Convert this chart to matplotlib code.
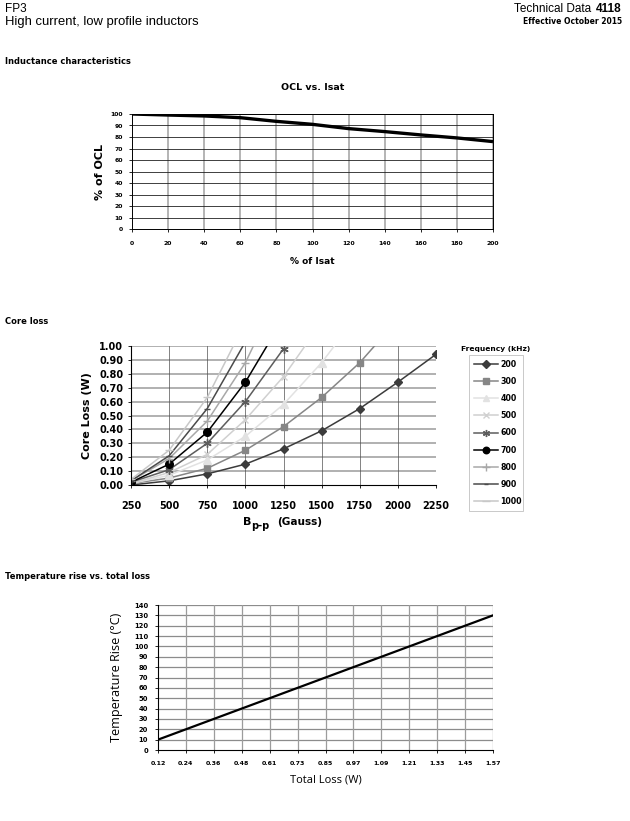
import numpy as np
import matplotlib
matplotlib.use("Agg")
import matplotlib.pyplot as plt
from matplotlib.lines import Line2D

plt.rcParams['font.family'] = ['DejaVu Sans']

# ---------------- data ----------------
ocl_isat = [0, 20, 40, 60, 80, 100, 120, 140, 160, 180, 200]
ocl_pct = [100, 99.1, 98.3, 96.8, 93.6, 91.0, 87.3, 84.7, 81.8, 79.2, 76.0]

bpp_labels = ["250", "500", "750", "1000", "1250", "1500", "1750", "2000", "2250"]
nan = np.nan
loss_200 = [0.00, 0.03, 0.08, 0.15, 0.26, 0.39, 0.55, 0.74, 0.94]
loss_300 = [0.01, 0.05, 0.12, 0.25, 0.42, 0.63, 0.88, 1.19, nan]
loss_400 = [0.01, 0.07, 0.18, 0.35, 0.58, 0.88, 1.24, nan, nan]
loss_500 = [0.01, 0.09, 0.22, 0.47, 0.78, 1.17, nan, nan, nan]
loss_600 = [0.02, 0.11, 0.30, 0.60, 0.98, nan, nan, nan, nan]
loss_700 = [0.02, 0.15, 0.38, 0.74, 1.20, nan, nan, nan, nan]
loss_800 = [0.03, 0.19, 0.46, 0.88, 1.45, nan, nan, nan, nan]
loss_900 = [0.03, 0.21, 0.55, 1.03, nan, nan, nan, nan, nan]
loss_1000 = [0.04, 0.25, 0.63, 1.17, nan, nan, nan, nan, nan]
freq_labels = ["200", "300", "400", "500", "600", "700", "800", "900", "1000"]

total_loss_labels = ["0.12", "0.24", "0.36", "0.48", "0.61", "0.73", "0.85",
                     "0.97", "1.09", "1.21", "1.33", "1.45", "1.57"]
temp_rise = [10, 20, 30, 40, 50, 60, 70, 80, 90, 100, 110, 120, 130]

# ---------------- figure ----------------
W, H = 630, 821
fig = plt.figure(figsize=(W / 100, H / 100), dpi=100)

def px_axes(l, t, r, b):
    return fig.add_axes([l / W, 1 - b / H, (r - l) / W, (b - t) / H])

def ftext(x, y, s, **kw):
    return fig.text(x / W, 1 - y / H, s, **kw)

LIB = ['Liberation Sans', 'DejaVu Sans']
OPEN = ['Open Sans', 'DejaVu Sans']

# header
ftext(5, 9, "FP3", fontsize=8.5, family=LIB, va='center')
ftext(5, 22, "High current, low profile inductors", fontsize=9.4, family=LIB, va='center')
ftext(622, 9, "4118", fontsize=8.5, family=LIB, fontweight='bold', va='center', ha='right')
ftext(591, 9, "Technical Data", fontsize=8.5, family=LIB, va='center', ha='right')
ftext(622, 22, "Effective October 2015", fontsize=5.5, fontweight='bold', va='center', ha='right')
ftext(5, 62, "Inductance characteristics", fontsize=6, fontweight='bold', va='center')
ftext(5, 321, "Core loss", fontsize=6, fontweight='bold', va='center')
ftext(5, 576, "Temperature rise vs. total loss", fontsize=6, fontweight='bold', va='center')

# ---------------- OCL vs Isat ----------------
ax1 = px_axes(132, 114, 493, 229)
ax1.plot(ocl_isat, ocl_pct, color='black', lw=2.4, solid_capstyle='butt')
ax1.set_xlim(0, 200)
ax1.set_ylim(0, 100)
ax1.set_xticks(range(0, 201, 20))
ax1.set_yticks(range(0, 101, 10))
for v in range(20, 201, 20):
    ax1.axvline(v, color='#a8a8a8', lw=1.2, zorder=0)
for v in range(10, 101, 10):
    ax1.axhline(v, color='#202020', lw=0.6, zorder=0)
for s in ax1.spines.values():
    s.set_linewidth(0.7)
ax1.tick_params(labelsize=4.4, length=2.5, width=0.6)
ax1.tick_params(axis='x', pad=6)
ax1.tick_params(axis='y', pad=4)
for lab in ax1.get_xticklabels() + ax1.get_yticklabels():
    lab.set_fontweight('bold')
ftext(313, 88, "OCL vs. Isat", fontsize=6.8, fontweight='bold', ha='center', va='center')
ax1.set_ylabel("% of OCL", fontsize=8, fontweight='bold')
ax1.yaxis.set_label_coords(-0.075, 0.5)
ax1.set_xlabel("% of Isat", fontsize=6.5, fontweight='bold')
ax1.xaxis.set_label_coords(0.5, -0.243)

# ---------------- Core loss ----------------
ax2 = px_axes(131, 346, 436, 485)
xs = np.arange(len(bpp_labels))
series = [loss_200, loss_300, loss_400, loss_500, loss_600, loss_700, loss_800, loss_900, loss_1000]
styles = [
    dict(color='#3c3c3c', marker='D', ms=4.3, mec='#3c3c3c', mfc='#3c3c3c'),
    dict(color='#868686', marker='s', ms=5, mec='#868686', mfc='#868686'),
    dict(color='#e2e2e2', marker='^', ms=5.5, mec='#e2e2e2', mfc='#e2e2e2'),
    dict(color='#d0d0d0', marker='x', ms=5, mec='#d0d0d0', mew=1.0),
    dict(color='#5c5c5c', marker=(6, 2, 0), ms=6, mec='#5c5c5c', mew=1.0),
    dict(color='black', marker='o', ms=5.5, mec='black', mfc='black'),
    dict(color='#a8a8a8', marker='+', ms=6, mec='#a8a8a8', mew=1.0),
    dict(color='#4a4a4a', marker='_', ms=4, mec='#4a4a4a', mew=1.0),
    dict(color='#c8c8c8', marker='_', ms=6, mec='#c8c8c8', mew=1.0),
]
for ys, st, lab in zip(series, styles, freq_labels):
    ax2.plot(xs, ys, lw=1.1, label=lab, **st)
ax2.set_xlim(0, len(bpp_labels) - 1)
ax2.set_ylim(0, 1.0)
ax2.set_xticks(xs)
ax2.set_xticklabels(bpp_labels)
ax2.set_yticks(np.arange(0, 1.01, 0.1))
ax2.set_yticklabels([f"{v:.2f}" for v in np.arange(0, 1.01, 0.1)])
for v in np.arange(0.1, 1.01, 0.1):
    ax2.axhline(v, color='#b0b0b0', lw=1.4, zorder=0)
for v in xs[1:]:
    ax2.axvline(v, color='#505050', lw=0.5, zorder=0)
ax2.spines['top'].set_visible(False)
ax2.spines['right'].set_visible(False)
ax2.spines['left'].set_linewidth(0.8)
ax2.spines['bottom'].set_linewidth(0.8)
ax2.tick_params(labelsize=7, length=2.5, width=0.6)
ax2.tick_params(axis='x', pad=9)
ax2.tick_params(axis='y', pad=3)
for lab in ax2.get_xticklabels() + ax2.get_yticklabels():
    lab.set_fontweight('bold')
ax2.set_ylabel("Core Loss (W)", fontsize=8, fontweight='bold')
ax2.yaxis.set_label_coords(-0.128, 0.5)
ftext(243, 522, "B", fontsize=8, fontweight='bold', va='center')
ftext(251.5, 526, "p-p", fontsize=7, fontweight='bold', va='center')
ftext(277, 522, "(Gauss)", fontsize=7.6, fontweight='bold', va='center')

handles = [Line2D([0], [0], lw=1.1, **st) for st in styles]
leg = fig.legend(handles, freq_labels, loc='upper left',
                 bbox_to_anchor=(469 / W, 1 - 513 / H, 54 / W, 158 / H),
                 mode='expand', fontsize=5.7, frameon=True, fancybox=False,
                 borderaxespad=0, handlelength=3.1, handletextpad=0.25,
                 labelspacing=1.03, borderpad=0.6, markerscale=0.85)
leg.get_frame().set_edgecolor('#b0b0b0')
leg.get_frame().set_linewidth(0.6)
for t in leg.get_texts():
    t.set_fontweight('bold')
ftext(496, 349, "Frequency (kHz)", fontsize=5.4, fontweight='bold', ha='center', va='center')

# ---------------- Temperature rise ----------------
ax3 = px_axes(158, 605, 493, 750)
xt = np.arange(len(total_loss_labels))
ax3.plot(xt, temp_rise, color='black', lw=1.6)
ax3.set_xlim(0, len(total_loss_labels) - 1)
ax3.set_ylim(0, 140)
ax3.set_xticks(xt)
ax3.set_xticklabels(total_loss_labels)
ax3.set_yticks(range(0, 141, 10))
for v in range(10, 141, 10):
    ax3.axhline(v, color='#8c8c8c', lw=0.9, zorder=0)
for v in xt[1:]:
    ax3.axvline(v, color='#9c9c9c', lw=0.9, zorder=0)
ax3.spines['top'].set_visible(False)
ax3.spines['right'].set_visible(False)
ax3.spines['left'].set_linewidth(0.8)
ax3.spines['bottom'].set_linewidth(0.8)
ax3.tick_params(labelsize=4.9, length=2.5, width=0.6)
ax3.tick_params(axis='x', pad=5.5)
ax3.tick_params(axis='y', pad=4.5)
for lab in ax3.get_yticklabels():
    lab.set_fontweight('bold')
for lab in ax3.get_xticklabels():
    lab.set_fontweight('bold')
    lab.set_fontsize(4.5)
ax3.set_ylabel("Temperature Rise (°C)", fontsize=9.1, family=OPEN)
ax3.yaxis.set_label_coords(-0.104, 0.5)
ax3.set_xlabel("Total Loss (W)", fontsize=8, family=OPEN)
ax3.xaxis.set_label_coords(0.5, -0.172)

fig.savefig("out.png", dpi=100)
